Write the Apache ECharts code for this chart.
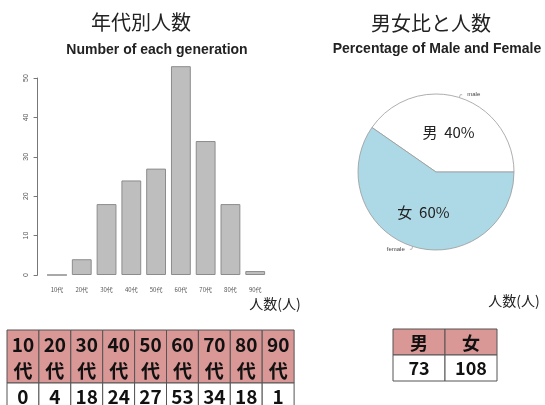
<!DOCTYPE html>
<html>
<head>
<meta charset="utf-8">
<script src="https://cdn.jsdelivr.net/npm/echarts@6/dist/echarts.min.js"></script>
<style>
  html, body { margin: 0; padding: 0; background: #fff; }
  #chart { width: 545px; height: 405px; }
</style>
</head>
<body>
<div id="chart"></div>
<script>
// data
const ageLabels = ["10代", "20代", "30代", "40代", "50代", "60代", "70代", "80代", "90代"];
const ageHeads = ["10", "20", "30", "40", "50", "60", "70", "80", "90"];
const ageCounts = [0, 4, 18, 24, 27, 53, 34, 18, 1];
const yTicks = [0, 10, 20, 30, 40, 50];
const genderNames = ["male", "female"];
const genderJa = ["男", "女"];
const genderCounts = [73, 108];

const JP = '"Noto Sans CJK JP", sans-serif';
const EN = '"Liberation Sans", Arial, sans-serif';
const PINK = "#d99795";
const LINE = "#555";

// table built from the arrays above
function makeTable(x0, y0, colW, headH, rowH, heads, vals, fs) {
  const els = [];
  heads.forEach((h, i) => {
    const x = x0 + i * colW;
    els.push({ type: "rect", shape: { x: x, y: y0, width: colW, height: headH },
      style: { fill: PINK, stroke: LINE, lineWidth: 1 } });
    els.push({ type: "rect", shape: { x: x, y: y0 + headH, width: colW, height: rowH },
      style: { fill: "#fff", stroke: LINE, lineWidth: 1 } });
    els.push({ type: "text", x: x + colW / 2, y: y0 + headH / 2 + 1,
      style: { text: h, font: `bold ${fs}px ${JP}`, fill: "#111", align: "center",
        verticalAlign: "middle", lineHeight: 26 } });
    els.push({ type: "text", x: x + colW / 2, y: y0 + headH + rowH / 2,
      style: { text: String(vals[i]), font: `bold ${fs}px ${JP}`, fill: "#111",
        align: "center", verticalAlign: "middle" } });
  });
  return els;
}

function label(x, y, text, font, color) {
  return { type: "text", x: x, y: y,
    style: { text: text, font: font, fill: color || "#222", align: "center", verticalAlign: "middle" } };
}

const chart = echarts.init(document.getElementById("chart"));

chart.setOption({
  backgroundColor: "#fff",
  animation: false,
  grid: { left: 44.6, right: 277.4, top: 78, bottom: 130 },
  xAxis: {
    type: "category",
    data: ageLabels,
    axisLine: { show: false },
    axisTick: { show: false },
    axisLabel: { fontSize: 6, color: "#555", margin: 12, fontFamily: JP, interval: 0 }
  },
  yAxis: {
    type: "value",
    min: yTicks[0],
    max: yTicks[yTicks.length - 1],
    interval: 10,
    offset: 7,
    splitLine: { show: false },
    axisLine: { show: true, lineStyle: { color: "#777", width: 1 } },
    axisTick: { show: true, length: 4, lineStyle: { color: "#777" } },
    axisLabel: { rotate: 90, fontSize: 7, color: "#555", margin: 8, fontFamily: EN }
  },
  series: [
    {
      type: "bar",
      data: ageCounts,
      barCategoryGap: "20%",
      clip: false,
      itemStyle: { color: "#bebebe", borderColor: "#8c8c8c", borderWidth: 1 }
    },
    {
      type: "pie",
      center: [436, 172],
      radius: 78,
      startAngle: 0,
      clockwise: false,
      silent: true,
      data: genderNames.map((n, i) => ({ name: n, value: genderCounts[i] })),
      color: ["#ffffff", "#add8e6"],
      itemStyle: { borderColor: "#999", borderWidth: 0.8 },
      label: { show: true, position: "outside", fontSize: 6, color: "#444", fontFamily: EN },
      labelLine: { show: true, length: 3, length2: 2, lineStyle: { color: "#888", width: 0.6 } }
    },
    {
      type: "pie",
      center: [436, 172],
      radius: 78,
      startAngle: 0,
      clockwise: false,
      silent: true,
      data: genderJa.map((n, i) => ({ name: n, value: genderCounts[i] })),
      itemStyle: { color: "rgba(0,0,0,0)" },
      label: {
        show: true, position: "inside", fontSize: 15, color: "#222", fontFamily: JP,
        formatter: p => p.name + "  " + Math.round(p.percent) + "%"
      },
      labelLine: { show: false }
    }
  ],
  graphic: [
    label(141, 22, "年代別人数", `20px ${JP}`),
    label(157, 50, "Number of each generation", `bold 14px ${EN}`),
    label(431, 23, "男女比と人数", `20px ${JP}`),
    label(437, 49, "Percentage of Male and Female", `bold 14px ${EN}`),
    label(275, 304, "人数(人)", `14px ${JP}`),
    label(514, 301, "人数(人)", `14px ${JP}`),
    ...makeTable(7, 330, 31.9, 53, 27, ageHeads.map(h => h + "\n代"), ageCounts, 19),
    ...makeTable(393, 329, 52, 26, 26, genderJa, genderCounts, 18)
  ]
});
</script>
</body>
</html>
